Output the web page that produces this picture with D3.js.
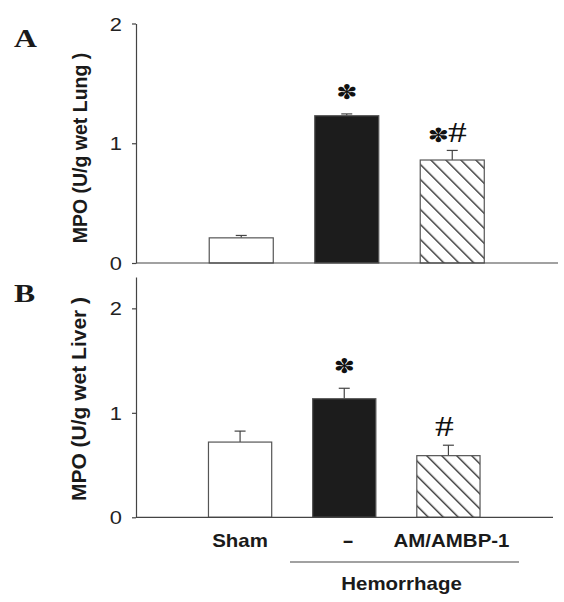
<!DOCTYPE html>
<html><head><meta charset="utf-8">
<script src="https://cdn.jsdelivr.net/npm/d3@7"></script>
<style>body{margin:0;background:#fff}svg{display:block}</style>
</head><body>
<svg id="c" width="564" height="602"></svg>
<script>
// ---- data ----
const categories = ["Sham", "-", "AM/AMBP-1"];
const fills = ["white", "black", "hatch"];
const lungMean = [0.21, 1.23, 0.86];
const lungSEM  = [0.02, 0.015, 0.08];
const lungSig  = ["", "*", "*#"];
const liverMean = [0.72, 1.135, 0.59];
const liverSEM  = [0.105, 0.10, 0.10];
const liverSig  = ["", "*", "#"];
const yTicks = [0, 1, 2];
const groupLabel = "Hemorrhage";

const svg = d3.select("#c");
const ctx = document.createElement("canvas").getContext("2d");
const HS = 10.6;

svg.append("defs").append("pattern")
  .attr("id", "hatch").attr("patternUnits", "userSpaceOnUse")
  .attr("width", HS).attr("height", HS)
  .attr("patternTransform", "rotate(-45)")
  .call(p => {
    p.append("rect").attr("width", HS).attr("height", HS).attr("fill", "#fff");
    p.append("line").attr("x1", 0.7).attr("y1", 0).attr("x2", 0.7).attr("y2", HS)
      .attr("stroke", "#222").attr("stroke-width", 1.3);
  });

function stretchedText(g, str, x, y, size, family, weight, anchor, sx) {
  return g.append("text")
    .attr("transform", `translate(${x},${y}) scale(${sx},1)`)
    .attr("text-anchor", anchor)
    .style("font-family", family).style("font-size", size + "px")
    .style("font-weight", weight).attr("fill", "#1a1a1a").text(str);
}

// glyph placed by ink box centre, sized to an ink box (w x h)
function glyphAt(g, ch, cx, cy, w, h, family, weight) {
  ctx.font = `${weight} 100px ${family}`;
  const m = ctx.measureText(ch);
  const iw = m.actualBoundingBoxRight + m.actualBoundingBoxLeft;
  const ih = m.actualBoundingBoxDescent + m.actualBoundingBoxAscent;
  const inkCx = (m.actualBoundingBoxRight - m.actualBoundingBoxLeft) / 2;
  const inkCy = (m.actualBoundingBoxDescent - m.actualBoundingBoxAscent) / 2;
  const sx = w / iw, sy = h / ih;
  g.append("text")
    .attr("transform", `translate(${cx},${cy}) scale(${sx},${sy}) translate(${-inkCx},${-inkCy})`)
    .style("font-family", family).style("font-size", "100px")
    .style("font-weight", weight).attr("fill", "#111").text(ch);
}

function panel(cfg) {
  const g = svg.append("g");
  const x = d3.scaleBand().domain(categories).range(cfg.xr)
    .paddingInner(0.393).paddingOuter(0.1965);
  const y = d3.scaleLinear().domain([0, cfg.ymax]).range(cfg.yr);

  categories.forEach((c, i) => {
    const v = cfg.mean[i], e = cfg.sem[i];
    const bx = x(c), bw = x.bandwidth(), cx = bx + bw / 2;
    g.append("line").attr("x1", cx).attr("x2", cx).attr("y1", y(v)).attr("y2", y(v + e))
      .attr("stroke", "#444").attr("stroke-width", 1.2);
    g.append("line").attr("x1", cx - 5.5).attr("x2", cx + 5.5).attr("y1", y(v + e)).attr("y2", y(v + e))
      .attr("stroke", "#444").attr("stroke-width", 1.2);
    g.append("rect").attr("x", bx).attr("y", y(v)).attr("width", bw).attr("height", y(0) - y(v))
      .attr("fill", fills[i] === "hatch" ? "url(#hatch)" : (fills[i] === "black" ? "#1c1c1c" : "#fff"))
      .attr("stroke", "#555").attr("stroke-width", 1.2);

    const sig = cfg.sig[i];
    if (sig) {
      const top = y(v + e);
      if (sig.includes("#")) {
        const base = top - 8.5;
        const hx = sig === "#" ? cx - 4 : cx + 5;
        glyphAt(g, "#", hx, base - 9.5, 18, 19, "'Liberation Serif'", "normal");
        if (sig.includes("*")) glyphAt(g, "\u273D", hx - 19, base - 7.5, 17.5, 15, "'DejaVu Sans'", "normal");
      } else {
        glyphAt(g, "\u273D", cx, top - 22.5, 17.5, 15.5, "'DejaVu Sans'", "normal");
      }
    }
  });

  g.append("line").attr("x1", cfg.ax).attr("x2", cfg.xEnd).attr("y1", y(0)).attr("y2", y(0))
    .attr("stroke", "#444").attr("stroke-width", 1.2);

  const ay = g.append("g").attr("transform", `translate(${cfg.ax},0)`)
    .call(d3.axisLeft(y).tickValues(yTicks).tickFormat(d3.format("d")).tickSize(4).tickSizeOuter(0).tickPadding(14));
  ay.select(".domain").attr("stroke", "#444").attr("stroke-width", 1.2);
  ay.selectAll(".tick line").attr("stroke", "#444").attr("stroke-width", 1.2);
  ay.selectAll(".tick text")
    .attr("x", null).attr("dy", null)
    .attr("transform", `translate(-14,6.5) scale(1.25,1)`)
    .style("font-family", "'Liberation Sans', Arial, sans-serif").style("font-size", "17.5px")
    .attr("fill", "#222");

  g.append("text")
    .attr("transform", `translate(${cfg.lx},${cfg.ly}) rotate(-90)`)
    .attr("text-anchor", "middle")
    .style("font-family", "'Liberation Sans', Arial, sans-serif")
    .style("font-size", cfg.lsize + "px").style("font-weight", "bold")
    .attr("fill", "#1a1a1a").text(cfg.label);

  stretchedText(g, cfg.letter, 14, cfg.letterY, 26, "'Liberation Serif', 'Times New Roman', serif", "bold", "start", 1.22);
  return { x, y };
}

panel({ letter: "A", letterY: 47, label: "MPO (U/g wet Lung )", lx: 87, ly: 148, lsize: 19.5,
  mean: lungMean, sem: lungSEM, sig: lungSig, ymax: 2, yr: [263, 23.5],
  xr: [188.5, 505], ax: 136, xEnd: 558 });

panel({ letter: "B", letterY: 301.5, label: "MPO (U/g wet Liver )", lx: 85.5, ly: 399, lsize: 21,
  mean: liverMean, sem: liverSEM, sig: liverSig, ymax: 2.3, yr: [517.3, 277],
  xr: [188, 500.5], ax: 136, xEnd: 553 });

const lab = svg.append("g");
const labCenters = [240, 348, 451.5];
categories.forEach((c, i) => {
  stretchedText(lab, c, labCenters[i], 547, 17.5, "'Liberation Sans', Arial, sans-serif", "bold", "middle", c === "-" ? 2.0 : 1.17);
});
lab.append("line").attr("x1", 290).attr("x2", 519).attr("y1", 562).attr("y2", 562)
  .attr("stroke", "#444").attr("stroke-width", 1.2);
stretchedText(lab, groupLabel, 401.5, 590, 17.5, "'Liberation Sans', Arial, sans-serif", "bold", "middle", 1.17);
</script>
</body></html>
